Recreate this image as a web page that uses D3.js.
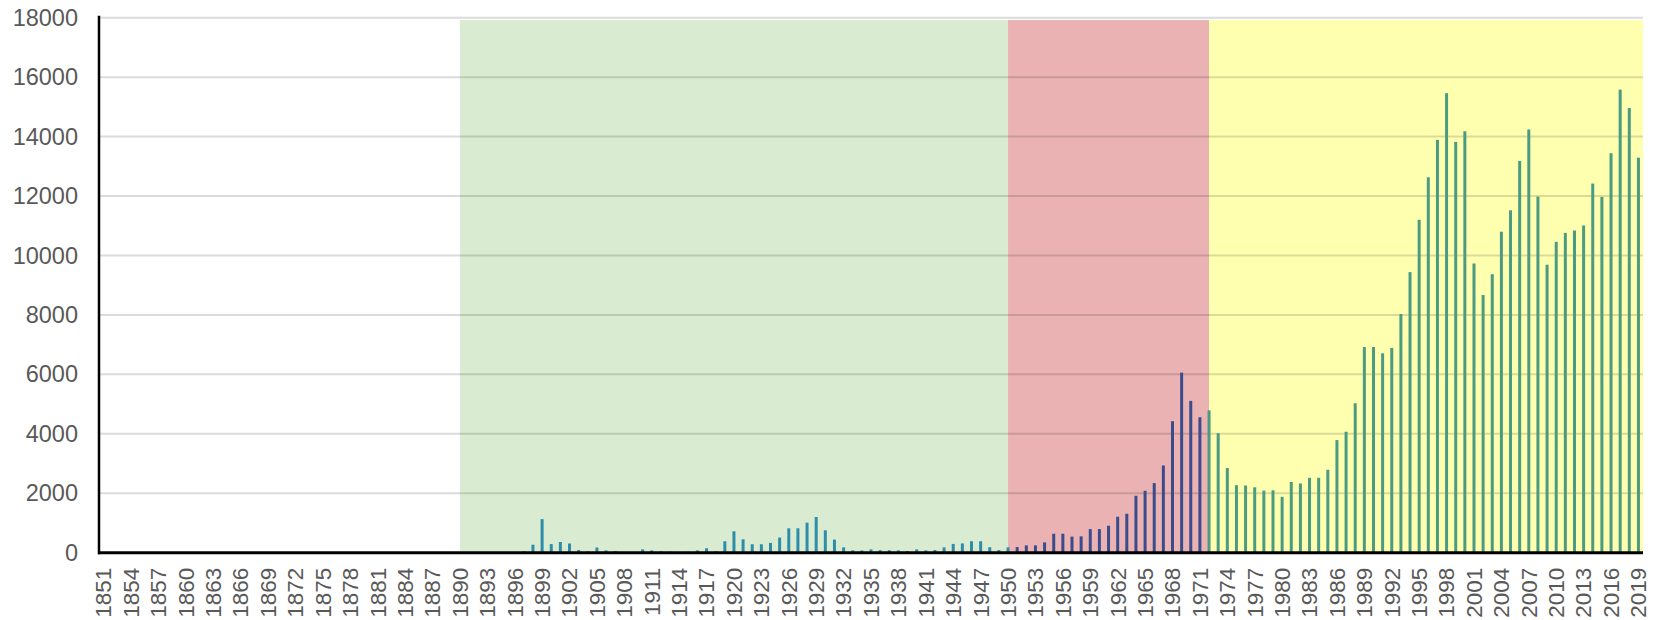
<!DOCTYPE html>
<html>
<head>
  <meta charset="utf-8">
  <title>bars by year</title>
  <script src="https://d3js.org/d3.v7.min.js"></script>
  <style>
    body { margin: 0; background: #fff; }
    svg text { font-family: "Liberation Sans", Arial, sans-serif; fill: #595959; }
    .grid line { stroke: #000; stroke-opacity: 0.14; stroke-width: 2px; }
  </style>
</head>
<body>
<script>

// categories
var years = d3.range(1851, 2020);

// values, one array per period
var valsBefore = [0,0,0,0,0,0,0,0,0,0, 0,0,0,0,0,0,0,0,0,0,
                  0,0,0,0,0,0,0,0,0,0, 0,0,0,0,0,0,0,0,0];           // 1851-1889
var valsGreen = [0,0,0,0,0,0,0, 50,270,1130,                          // 1890-1899
                 290,360,310,90,45,175,78,56,0,0,                     // 1900-1909
                 112,78,45,34,0,34,78,150,50,385,                     // 1910-1919
                 720,450,285,285,330,510,820,820,1010,1200,           // 1920-1929
                 755,440,180,80,75,112,85,85,78,56,                   // 1930-1939
                 112,78,90,179,295,312,385,385,185,89,                // 1940-1949
                 180];                                                // 1950
var valsRed = [190,246,246,347,638,638,540,549,795,795,               // 1951-1960
               907,1210,1310,1915,2083,2341,2934,4424,6059,5107,      // 1961-1970
               4558];                                                 // 1971
var valsYellow = [4790,4020,2850,2270,2260,2200,2090,2100,            // 1972-1979
                  1880,2380,2330,2520,2520,2790,3790,4070,5030,6920,  // 1980-1989
                  6920,6710,6890,8030,9440,11200,12630,13890,15460,13820, // 1990-1999
                  14180,9730,8670,9370,10800,11520,13180,14240,11980,9690, // 2000-2009
                  10460,10760,10840,11010,12420,11970,13440,15580,14960,13290]; // 2010-2019

// background periods
var periods = [
  {name: "green",  from: 1890, to: 1950, top: 17920},
  {name: "red",    from: 1950, to: 1972, top: 17920},
  {name: "yellow", from: 1972, to: null, top: 17920}
];

var yTicks = d3.range(0, 18001, 2000);
var xTickYears = years.filter(function(d, i) { return i % 3 === 0; });

var bandColor = {green: "#d9ecd2", red: "#eab2b2", yellow: "#ffffb0"};
var barColor  = {green: "#2e8dab", red: "#3b4c8c", yellow: "#4b9b82"};

var data = [];
valsBefore.concat(valsGreen).forEach(function(v, i) {
  data.push({year: years[i], value: v, period: "green"});
});
valsRed.forEach(function(v) { data.push({year: data.length + 1851, value: v, period: "red"}); });
valsYellow.forEach(function(v) { data.push({year: data.length + 1851, value: v, period: "yellow"}); });

var width = 1657, height = 620;
var mLeft = 99, mRight = 1643, mTop = 17.7, mBottom = 552.7;

var svg = d3.select("body").append("svg")
    .attr("width", width)
    .attr("height", height);

var x = d3.scaleBand()
    .domain(years)
    .range([mLeft, mRight])
    .padding(0);

var y = d3.scaleLinear()
    .domain([0, 18000])
    .range([mBottom, mTop]);

var bw = x.bandwidth();
function cx(yr) { return x(yr) + bw / 2; }

// background bands
svg.append("g").selectAll("rect")
    .data(periods)
  .enter().append("rect")
    .attr("x", function(d) { return cx(d.from); })
    .attr("width", function(d) { return (d.to ? cx(d.to) : mRight) - cx(d.from); })
    .attr("y", function(d) { return y(d.top); })
    .attr("height", function(d) { return y(0) - y(d.top); })
    .style("fill", function(d) { return bandColor[d.name]; });

// gridlines
svg.append("g")
    .attr("class", "grid")
    .selectAll("line")
    .data(yTicks.filter(function(d) { return d > 0; }))
  .enter().append("line")
    .attr("x1", mLeft)
    .attr("x2", mRight)
    .attr("y1", function(d) { return y(d); })
    .attr("y2", function(d) { return y(d); });

// bars
svg.append("g").selectAll("rect")
    .data(data.filter(function(d) { return d.value > 0; }))
  .enter().append("rect")
    .attr("x", function(d) { return cx(d.year) - 1.5; })
    .attr("width", 3)
    .attr("y", function(d) { return y(d.value); })
    .attr("height", function(d) { return y(0) - y(d.value); })
    .style("fill", function(d) { return barColor[d.period]; });

// y axis
var yAxis = svg.append("g")
    .attr("transform", "translate(" + mLeft + ",0)")
    .call(d3.axisLeft(y).tickValues(yTicks).tickSize(0).tickPadding(21).tickFormat(d3.format("d")));
yAxis.select(".domain").remove();
yAxis.selectAll("text")
    .style("font-size", "23.5px")
    .style("fill", "#595959");

// x axis
var xAxis = svg.append("g")
    .attr("transform", "translate(0," + mBottom + ")")
    .call(d3.axisBottom(x).tickValues(xTickYears).tickSize(0));
xAxis.select(".domain").remove();
xAxis.selectAll("text")
    .style("font-size", "22.5px")
    .style("fill", "#595959")
    .attr("text-anchor", "end")
    .attr("transform", "rotate(-90)")
    .attr("x", -15)
    .attr("y", 0)
    .attr("dy", "0.35em");

// axis lines
svg.append("line")
    .attr("x1", mLeft).attr("x2", mLeft)
    .attr("y1", mTop - 2).attr("y2", mBottom + 1.5)
    .style("stroke", "#000").style("stroke-width", 2.5);
svg.append("line")
    .attr("x1", mLeft - 1).attr("x2", mRight)
    .attr("y1", mBottom).attr("y2", mBottom)
    .style("stroke", "#000").style("stroke-width", 3);

</script>
</body>
</html>
